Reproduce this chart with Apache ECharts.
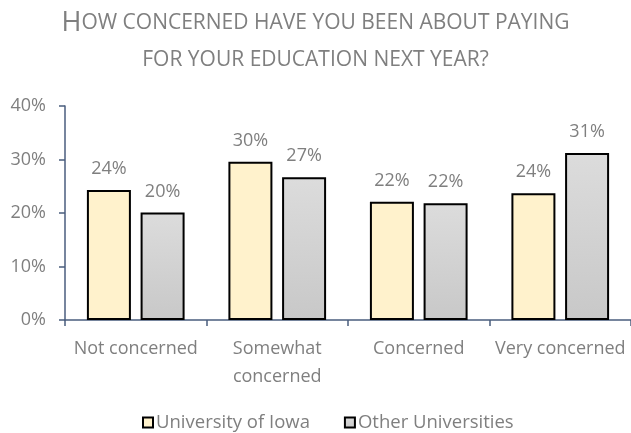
<!DOCTYPE html>
<html>
<head>
<meta charset="utf-8">
<script src="https://cdn.jsdelivr.net/npm/echarts@6/dist/echarts.min.js"></script>
<style>
  html, body { margin: 0; padding: 0; background: #fff; }
  #chart { width: 631px; height: 433px; }
</style>
</head>
<body>
<div id="chart"></div>
<script>
const categories = ['Not concerned', 'Somewhat\nconcerned', 'Concerned', 'Very concerned']
const iowaValues = [24.3, 29.6, 22.1, 23.7]
const otherValues = [20.1, 26.7, 21.8, 31.2]
const seriesNames = ['University of Iowa', 'Other Universities']

const textGray = '#7f7f7f'
const axisColor = '#4a5d7e'
const font = 'Open Sans'

const chart = echarts.init(document.getElementById('chart'))

const labelOpt = {
  show: true,
  position: 'top',
  distance: 12,
  color: textGray,
  fontFamily: font,
  fontSize: 18,
  formatter: p => Math.round(p.value) + '%',
}

chart.setOption({
  animation: false,
  title: {
    text: '{b|H}{s|OW CONCERNED HAVE YOU BEEN ABOUT PAYING}\n{s|FOR YOUR EDUCATION NEXT YEAR?}',
    left: 'center',
    top: 0,
    padding: [5, 0, 0, 12],
    textStyle: {
      fontWeight: 'normal',
      rich: {
        b: { fontSize: 27, color: textGray, fontFamily: font, lineHeight: 37 },
        s: { fontSize: 21, color: textGray, fontFamily: font, lineHeight: 37 },
      },
    },
  },
  legend: {
    top: 413,
    left: 142,
    padding: 0,
    itemWidth: 10,
    itemHeight: 10,
    itemGap: 34,
    icon: 'rect',
    textStyle: { color: textGray, fontFamily: font, fontSize: 18.5, padding: [0, 0, 0, -2] },
    data: seriesNames,
  },
  grid: { left: 65, top: 106, width: 567, height: 214, containLabel: false },
  xAxis: {
    type: 'category',
    data: categories,
    axisLine: { lineStyle: { color: axisColor, width: 1.5 } },
    axisTick: { show: true, length: 6, lineStyle: { color: axisColor, width: 1.5 } },
    axisLabel: {
      interval: 0,
      color: textGray,
      fontFamily: font,
      fontSize: 18,
      margin: 15,
      lineHeight: 28,
    },
  },
  yAxis: {
    type: 'value',
    min: 0,
    max: 40,
    interval: 10,
    splitLine: { show: false },
    axisLine: { show: true, lineStyle: { color: axisColor, width: 1.5 } },
    axisTick: { show: true, length: 6, lineStyle: { color: axisColor, width: 1.5 } },
    axisLabel: {
      formatter: '{value}%',
      color: textGray,
      fontFamily: font,
      fontSize: 18,
      margin: 19,
    },
  },
  series: [
    {
      name: seriesNames[0],
      type: 'bar',
      data: iowaValues,
      barWidth: 44,
      barGap: '22%',
      itemStyle: { color: '#fff2cc', borderColor: '#000', borderWidth: 2 },
      label: labelOpt,
    },
    {
      name: seriesNames[1],
      type: 'bar',
      data: otherValues,
      barWidth: 44,
      itemStyle: {
        color: new echarts.graphic.LinearGradient(0, 0, 0, 1, [
          { offset: 0, color: '#dcdcdc' },
          { offset: 1, color: '#c8c8c8' },
        ]),
        borderColor: '#000',
        borderWidth: 2,
      },
      label: labelOpt,
    },
  ],
})
</script>
</body>
</html>
